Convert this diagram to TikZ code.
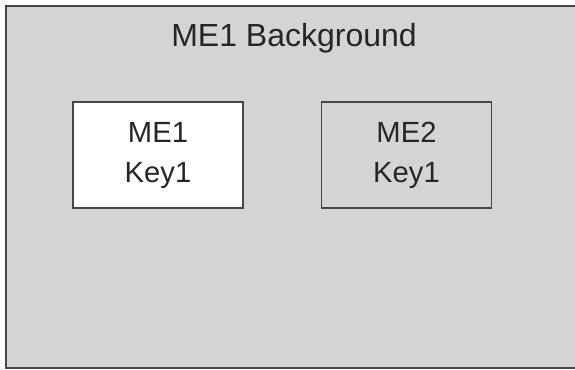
\documentclass[tikz,border=0pt]{standalone}
\usepackage{fontspec}
\setmainfont{Liberation Sans}
\usetikzlibrary{calc, positioning}
\definecolor{bggray}{RGB}{211,212,214}
\definecolor{edgegray}{RGB}{70,70,70}

\begin{document}
\begin{tikzpicture}[x=0.5pt, y=-0.5pt,
  keybox/.style={draw=edgegray, line width=0.9pt, minimum width=85pt, minimum height=53pt, align=center, inner sep=0pt, font=\fontsize{14.6}{20}\selectfont, text=black!85}]
\useasboundingbox (0,0) rectangle (575,370);
\coordinate (TL) at (6,6);
\coordinate (BR) at (575,368);
\coordinate (T) at (294,46);

\fill[bggray] (TL) rectangle (BR);
\draw[edgegray, line width=1.2pt] (585,368) -- (6,368) -- (6,6) -- (585,6);

\node[anchor=base, font=\fontsize{16}{20}\selectfont, text=black!85] (title) at (T) {ME1 Background};

\node[keybox, fill=white] (me1) at (158,155) {ME1\\Key1};
\node[keybox] (me2) at (406.5,155) {ME2\\Key1};
\end{tikzpicture}
\end{document}
